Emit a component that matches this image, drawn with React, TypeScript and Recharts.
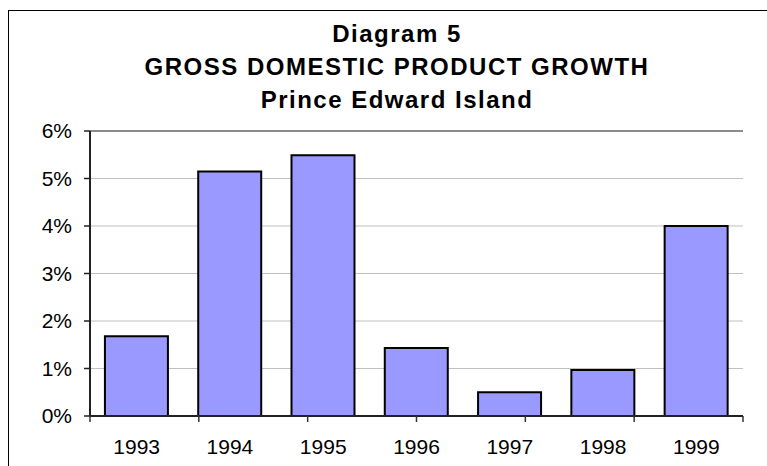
import React from 'react';
import { BarChart, Bar, XAxis, YAxis, CartesianGrid, ReferenceLine } from 'recharts';

const years = ['1993', '1994', '1995', '1996', '1997', '1998', '1999'];
const growth = [0.0168, 0.0515, 0.0549, 0.0143, 0.005, 0.0097, 0.04];
const yTicks = [0, 0.01, 0.02, 0.03, 0.04, 0.05, 0.06];
const titleLines = ['Diagram 5', 'GROSS DOMESTIC PRODUCT GROWTH', 'Prince Edward Island'];

const data = years.map((year, i) => ({ year, growth: growth[i] }));
const edgeTicks = years.map((_, i) => i).concat(years.length);

const FONT = '"Liberation Sans", Arial, Helvetica, sans-serif';

export default function App() {
    return (
        <div style={{ position: 'absolute', left: 0, top: 0, width: 767, height: 466, overflow: 'hidden', background: '#fff', fontFamily: FONT }}>
            {/* outer frame, cut off at right and bottom like the source */}
            <div style={{ position: 'absolute', left: 8, top: 10, width: 800, height: 500, border: '1px solid #000', boxSizing: 'border-box' }} />

            <svg width={767} height={130} style={{ position: 'absolute', left: 0, top: 0 }}>
                {titleLines.map((line, i) => (
                    <text
                        key={line}
                        x={397}
                        y={42 + i * 32.75}
                        textAnchor="middle"
                        fontFamily={FONT}
                        fontWeight="bold"
                        fontSize={24}
                        letterSpacing={1.5}
                        fill="#000"
                    >
                        {line}
                    </text>
                ))}
            </svg>

            <div style={{ position: 'absolute', left: 0, top: 0 }}>
                <BarChart
                    width={767}
                    height={466}
                    data={data}
                    margin={{ top: 131, right: 24, left: 0, bottom: 20 }}
                    barCategoryGap="16%"
                >
                    <CartesianGrid vertical={false} stroke="#c0c0c0" yAxisId="y" />
                    <XAxis
                        xAxisId="b_cat"
                        dataKey="year"
                        height={29}
                        axisLine={false}
                        tickLine={false}
                        tickSize={6}
                        tickMargin={16}
                        tick={{ fill: '#000', fontSize: 21, fontFamily: FONT }}
                        interval={0}
                    />
                    {/* boundary ticks between categories, plus the x axis line */}
                    <XAxis
                        xAxisId="a_edge"
                        type="number"
                        domain={[0, years.length]}
                        ticks={edgeTicks}
                        allowDataOverflow
                        height={1}
                        axisLine={{ stroke: '#222', strokeWidth: 2 }}
                        tickLine={{ stroke: '#333', strokeWidth: 1.5 }}
                        tickSize={6}
                        tickFormatter={() => ''}
                    />
                    <YAxis
                        yAxisId="y"
                        width={90}
                        domain={[0, 0.06]}
                        ticks={yTicks}
                        allowDataOverflow
                        axisLine={{ stroke: '#222', strokeWidth: 2 }}
                        tickLine={{ stroke: '#222', strokeWidth: 1.5 }}
                        tickSize={6}
                        tickMargin={12}
                        tick={{ fill: '#000', fontSize: 21, fontFamily: FONT }}
                        tickFormatter={(v: number) => `${Math.round(v * 100)}%`}
                    />
                    <ReferenceLine yAxisId="y" xAxisId="b_cat" y={0.06} stroke="#8c8c8c" strokeWidth={2} />
                    <ReferenceLine yAxisId="y" xAxisId="a_edge" x={years.length} stroke="#8c8c8c" strokeWidth={2} />
                    <Bar
                        dataKey="growth"
                        xAxisId="b_cat"
                        yAxisId="y"
                        fill="#9999ff"
                        stroke="#000"
                        strokeWidth={2}
                        isAnimationActive={false}
                    />
                </BarChart>
            </div>
        </div>
    );
}
